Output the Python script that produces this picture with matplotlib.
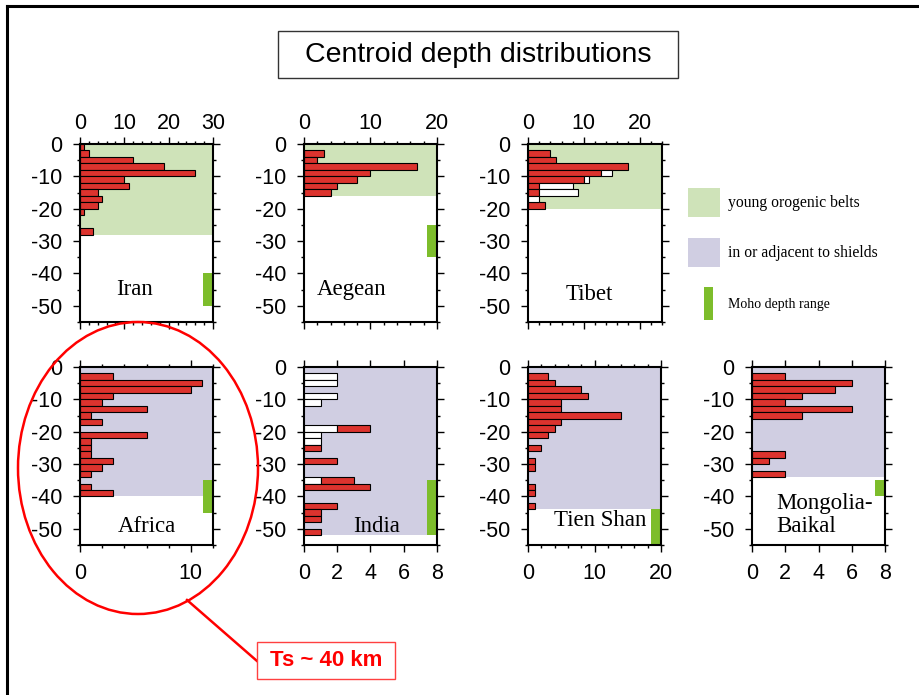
import matplotlib.pyplot as plt
from matplotlib.patches import Rectangle, Ellipse
from matplotlib.lines import Line2D
from matplotlib.ticker import MultipleLocator

plt.rcParams['axes.unicode_minus'] = False
plt.rcParams['font.family'] = 'Liberation Sans'

# counts per 2 km depth bin (bin i = 2i .. 2i+2 km)
iran_red = [1, 2, 12, 19, 26, 10, 11, 4, 5, 4, 1, 0, 0, 3]
aegean_red = [0, 3, 2, 17, 10, 8, 5, 4]
tibet_red = [0, 4, 5, 18, 13, 10, 2, 2, 0, 3]
tibet_white = [0, 0, 0, 0, 2, 1, 6, 7, 2, 0]
africa_red = [0, 3, 11, 10, 3, 2, 6, 1, 2, 0, 6, 1, 1, 1, 3, 2, 1, 0, 1, 3]
india_red = [0, 0, 0, 0, 0, 0, 0, 0, 0, 2, 0, 0, 1, 0, 2, 0, 0, 2, 4, 0, 0, 2, 1, 1, 0, 1]
india_white = [0, 2, 2, 0, 2, 1, 0, 0, 0, 2, 1, 1, 0, 0, 0, 0, 0, 1, 0, 0, 0, 0, 0, 0, 0, 0]
tienshan_red = [0, 3, 4, 8, 9, 5, 5, 14, 5, 4, 3, 0, 2, 0, 1, 1, 0, 0, 1, 1, 0, 1]
mongolia_red = [0, 2, 6, 5, 3, 2, 6, 3, 0, 0, 0, 0, 0, 2, 1, 0, 2]

# shaded depth range (km) and Moho depth range (km)
bg_depth = {'Iran': 28, 'Aegean': 16, 'Tibet': 20, 'Africa': 40,
            'India': 52, 'Tien Shan': 44, 'Mongolia': 34}
moho = {'Iran': (40, 50), 'Aegean': (25, 35), 'Tibet': None, 'Africa': (35, 45),
        'India': (35, 52), 'Tien Shan': (44, 55), 'Mongolia': (35, 40)}

GREEN_BG = '#cfe3b9'
LAV_BG = '#d0cee2'
MOHO_C = '#7dbd2b'
RED = '#dc332e'

W, H = 920, 695
fig = plt.figure(figsize=(W / 100, H / 100), dpi=100)


def box(x0, y0, x1, y1):
    return [x0 / W, 1 - y1 / H, (x1 - x0) / W, (y1 - y0) / H]


def panel(rect, first, second, bg, bg_col, mh, xmax, major, minor, top_row):
    ax = fig.add_axes(box(*rect))
    ax.axhspan(-bg, 0, color=bg_col, lw=0, zorder=0)
    if mh is not None:
        ax.axhspan(-mh[1], -mh[0], xmin=0.925, xmax=1, color=MOHO_C, lw=0, zorder=1)
    left = [0] * len(first[0])
    for vals, col in (first, second):
        for i, v in enumerate(vals):
            if v > 0:
                ax.barh(-(2 * i + 1), v, height=2, left=left[i], color=col,
                        edgecolor='black', linewidth=0.8, zorder=2)
            left[i] += v
    ax.set_xlim(0, xmax)
    ax.set_ylim(-55, 0)
    ax.xaxis.set_major_locator(MultipleLocator(major))
    if minor:
        ax.xaxis.set_minor_locator(MultipleLocator(minor))
    ax.yaxis.set_major_locator(MultipleLocator(10))
    ax.yaxis.set_minor_locator(MultipleLocator(5))
    ax.tick_params(which='both', direction='out', top=True, right=True,
                   labeltop=top_row, labelbottom=not top_row, width=1, labelsize=15.5)
    ax.tick_params(which='major', length=5, pad=8)
    ax.tick_params(axis='x', which='major', pad=2 if top_row else 8)
    ax.tick_params(which='minor', length=2.5)
    for s in ax.spines.values():
        s.set_linewidth(1.5)
    return ax


empty = [0] * 30
ax_iran = panel((80, 144, 213, 322), (iran_red, RED), (empty[:len(iran_red)], 'white'),
                bg_depth['Iran'], GREEN_BG, moho['Iran'], 30, 10, 2, True)
ax_aeg = panel((304, 144, 437, 322), (aegean_red, RED), (empty[:len(aegean_red)], 'white'),
               bg_depth['Aegean'], GREEN_BG, moho['Aegean'], 20, 10, 2, True)
ax_tib = panel((528, 144, 662, 322), (tibet_red, RED), (tibet_white, 'white'),
               bg_depth['Tibet'], GREEN_BG, moho['Tibet'], 24, 10, 2, True)
ax_afr = panel((80, 367, 213, 545), (africa_red, RED), (empty[:len(africa_red)], 'white'),
               bg_depth['Africa'], LAV_BG, moho['Africa'], 12, 10, 2, False)
ax_ind = panel((304, 367, 437, 545), (india_white, 'white'), (india_red, RED),
               bg_depth['India'], LAV_BG, moho['India'], 8, 2, None, False)
ax_tien = panel((528, 367, 661, 545), (tienshan_red, RED), (empty[:len(tienshan_red)], 'white'),
                bg_depth['Tien Shan'], LAV_BG, moho['Tien Shan'], 20, 10, 2, False)
ax_mon = panel((752, 367, 885, 545), (mongolia_red, RED), (empty[:len(mongolia_red)], 'white'),
               bg_depth['Mongolia'], LAV_BG, moho['Mongolia'], 8, 2, None, False)

serif = dict(family='Liberation Serif', fontsize=16.5, va='baseline', zorder=5)
ax_iran.text(0.41, 0.15, 'Iran', transform=ax_iran.transAxes, ha='center', **serif)
ax_aeg.text(0.36, 0.15, 'Aegean', transform=ax_aeg.transAxes, ha='center', **serif)
ax_tib.text(0.46, 0.124, 'Tibet', transform=ax_tib.transAxes, ha='center', **serif)
ax_afr.text(0.50, 0.075, 'Africa', transform=ax_afr.transAxes, ha='center', **serif)
ax_ind.text(0.544, 0.075, 'India', transform=ax_ind.transAxes, ha='center', **serif)
ax_tien.text(0.54, 0.107, 'Tien Shan', transform=ax_tien.transAxes, ha='center', **serif)
ax_mon.text(0.185, 0.20, 'Mongolia-', transform=ax_mon.transAxes, ha='left', **serif)
ax_mon.text(0.185, 0.075, 'Baikal', transform=ax_mon.transAxes, ha='left', **serif)

# title box
fig.patches.append(Rectangle((278 / W, 1 - 78 / H), 400 / W, 47 / H, transform=fig.transFigure,
                             facecolor='white', edgecolor='#333333', lw=1))
fig.text(478 / W, 1 - 55 / H, 'Centroid depth distributions', ha='center', va='center',
         fontsize=20.5)

# legend
fig.patches.append(Rectangle((688 / W, 1 - 217 / H), 32 / W, 29 / H, transform=fig.transFigure,
                             facecolor=GREEN_BG, lw=0))
fig.patches.append(Rectangle((688 / W, 1 - 267 / H), 32 / W, 29 / H, transform=fig.transFigure,
                             facecolor=LAV_BG, lw=0))
fig.patches.append(Rectangle((704 / W, 1 - 320 / H), 9 / W, 33 / H, transform=fig.transFigure,
                             facecolor=MOHO_C, lw=0))
fig.text(728 / W, 1 - 203 / H, 'young orogenic belts', family='Liberation Serif',
         fontsize=11.3, va='center')
fig.text(728 / W, 1 - 253 / H, 'in or adjacent to shields', family='Liberation Serif',
         fontsize=11.3, va='center')
fig.text(728 / W, 1 - 305 / H, 'Moho depth range', family='Liberation Serif',
         fontsize=10, va='center')

# page frame (top and left edges)
fig.lines.append(Line2D([7 / W, 1], [1 - 6 / H, 1 - 6 / H], transform=fig.transFigure,
                        color='black', lw=2.2))
fig.lines.append(Line2D([7 / W, 7 / W], [0, 1 - 6 / H], transform=fig.transFigure,
                        color='black', lw=2.2))

# annotation
fig.patches.append(Ellipse((138 / W, 1 - 468 / H), 240 / W, 292 / H, transform=fig.transFigure,
                           facecolor='none', edgecolor='red', lw=1.8, zorder=10))
fig.lines.append(Line2D([187 / W, 257 / W], [1 - 600 / H, 1 - 661 / H], transform=fig.transFigure,
                        color='red', lw=1.8, zorder=10))
fig.patches.append(Rectangle((257 / W, 1 - 679 / H), 138 / W, 37 / H, transform=fig.transFigure,
                             facecolor='white', edgecolor='#ff4040', lw=1, zorder=10))
fig.text(326 / W, 1 - 661 / H, 'Ts ~ 40 km', ha='center', va='center', color='red',
         fontweight='bold', fontsize=16, zorder=11)

fig.savefig('out.png', dpi=100)
